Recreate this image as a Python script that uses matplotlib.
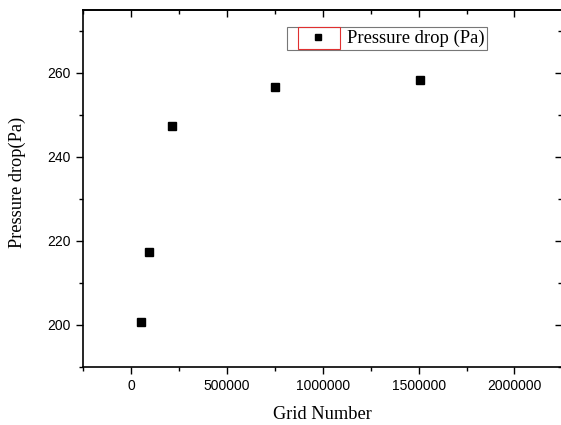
import matplotlib
matplotlib.use('Agg')
import matplotlib.pyplot as plt
from matplotlib.patches import Rectangle
from matplotlib.ticker import MultipleLocator, ScalarFormatter

# data
grid_number = [52000, 92000, 212000, 752000, 1505000]
pressure_drop = [200.6, 217.5, 247.5, 256.7, 258.3]

serif = 'Liberation Serif'
sans = 'Liberation Sans'

fig = plt.figure(figsize=(5.61, 4.25), dpi=100)
ax = fig.add_axes([83/561, 1-367/425, 479/561, 357/425])

ax.plot(grid_number, pressure_drop, 's', color='black', markersize=5.8,
        linestyle='none', label='Pressure drop (Pa)')

ax.set_xlim(-252000, 2248000)
ax.set_ylim(190, 275)
ax.xaxis.set_major_locator(MultipleLocator(500000))
ax.xaxis.set_minor_locator(MultipleLocator(250000))
fmt = ScalarFormatter(useOffset=False)
fmt.set_scientific(False)
ax.xaxis.set_major_formatter(fmt)
ax.yaxis.set_major_locator(MultipleLocator(20))
ax.yaxis.set_minor_locator(MultipleLocator(10))

ax.tick_params(which='both', direction='out', width=1.0, top=False, right=False,
               labelsize=10, pad=4)
ax.tick_params(which='major', length=5)
ax.tick_params(which='minor', length=3)
for lab in ax.get_xticklabels() + ax.get_yticklabels():
    lab.set_fontfamily(sans)

# inward ticks on top and right
ax_top = ax.secondary_xaxis('top')
ax_top.xaxis.set_major_locator(MultipleLocator(500000))
ax_top.xaxis.set_minor_locator(MultipleLocator(250000))
ax_top.tick_params(which='both', direction='in', labeltop=False, width=1.0)
ax_top.tick_params(which='major', length=5)
ax_top.tick_params(which='minor', length=3)
ax_right = ax.secondary_yaxis('right')
ax_right.yaxis.set_major_locator(MultipleLocator(20))
ax_right.yaxis.set_minor_locator(MultipleLocator(10))
ax_right.tick_params(which='both', direction='in', labelright=False, width=1.0)
ax_right.tick_params(which='major', length=5)
ax_right.tick_params(which='minor', length=3)

for s in ax.spines.values():
    s.set_linewidth(1.2)
ax_top.spines['top'].set_linewidth(1.2)
ax_right.spines['right'].set_linewidth(1.2)

ax.set_xlabel('Grid Number', fontfamily=serif, fontsize=13.2, labelpad=9)
ax.set_ylabel('Pressure drop(Pa)', fontfamily=serif, fontsize=13.2, labelpad=15)
ax.yaxis.label.set_y(0.518)

leg = ax.legend(loc='upper left', bbox_to_anchor=(204/479, 1-17/357),
                prop={'family': serif, 'size': 13.4}, fancybox=False,
                frameon=True, edgecolor='#555555', handlelength=3.0,
                handletextpad=0.05, borderpad=0.15, borderaxespad=0,
                markerscale=0.8)
leg.get_frame().set_linewidth(0.8)

# red box around legend symbol
fig.patches.append(Rectangle((298/561, 1-49/425), 42/561, 22/425,
                             transform=fig.transFigure, fill=False,
                             edgecolor='#e03030', linewidth=0.8))

fig.savefig('out.png', dpi=100)
